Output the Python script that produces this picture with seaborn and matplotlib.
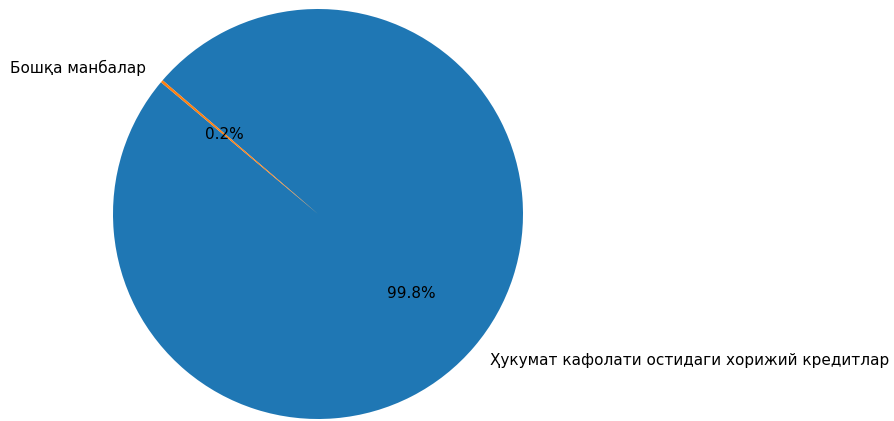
import matplotlib
matplotlib.use("Agg")
import matplotlib.pyplot as plt
import seaborn as sns

# data
labels = ["Ҳукумат кафолати остидаги хорижий кредитлар", "Бошқа манбалар"]
shares = [99.8, 0.2]

colors = sns.color_palette("tab10", 2)
plt.rcParams['font.family'] = ['DejaVu Sans']

fig = plt.figure(figsize=(8.94, 4.21), dpi=100)
ax = fig.add_axes([0, 0, 1, 1])
ax.pie(shares, labels=labels, colors=colors, autopct="%1.1f%%",
       startangle=140, textprops={"fontsize": 11, "color": "black"},
       wedgeprops={"linewidth": 0})

# place the pie: centre at (318, 214) px, radius ~205 px
r = 205.0
ax.set_aspect("auto")
ax.set_xlim(-318 / r, (894 - 318) / r)
ax.set_ylim(-(421 - 214) / r, 214 / r)
ax.axis("off")

fig.savefig("out.png", dpi=100)
